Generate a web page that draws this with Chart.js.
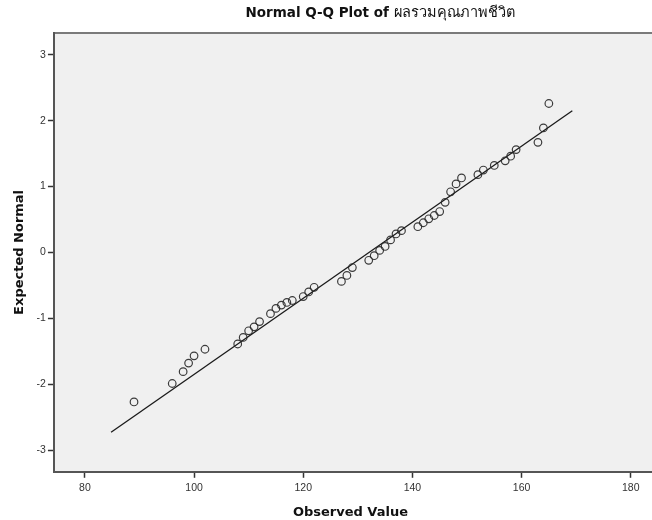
<!DOCTYPE html>
<html>
<head>
<meta charset="utf-8">
<script src="https://cdn.jsdelivr.net/npm/chart.js@4/dist/chart.umd.min.js"></script>
<style>
  html, body { margin: 0; padding: 0; background: #fff; }
  #wrap { width: 652px; height: 520px; }
</style>
</head>
<body>
<div id="wrap"><canvas id="qq" width="652" height="520"></canvas></div>
<script>
const xTicks = [80, 100, 120, 140, 160, 180];
const yTicks = [-3, -2, -1, 0, 1, 2, 3];

const observed = [89, 96, 98, 99, 100, 102, 108, 109, 110, 111, 112, 114, 115, 116, 117, 118,
  120, 121, 122, 127, 128, 129, 132, 133, 134, 135, 136, 137, 138, 141, 142, 143, 144, 145,
  146, 147, 148, 149, 152, 153, 155, 157, 158, 159, 163, 164, 165];
const expected = [-2.27, -1.99, -1.81, -1.68, -1.57, -1.47, -1.39, -1.29, -1.19, -1.13, -1.05,
  -0.93, -0.85, -0.80, -0.76, -0.73, -0.67, -0.60, -0.53, -0.44, -0.35, -0.23, -0.12, -0.05,
  0.03, 0.09, 0.19, 0.28, 0.33, 0.39, 0.45, 0.51, 0.56, 0.62, 0.76, 0.92, 1.04, 1.13, 1.18,
  1.25, 1.32, 1.39, 1.46, 1.56, 1.67, 1.89, 2.26];

// reference line ends
const lineX = [84.8, 169.3];
const lineY = [-2.73, 2.15];

const TICK_FONT = "'Liberation Sans', Arial, sans-serif";
const LABEL_FONT = "'DejaVu Sans', Verdana, sans-serif";

// plot panel runs off the right edge of the picture
const plotBackground = {
  id: "plotBackground",
  beforeDraw(chart) {
    const { ctx, chartArea: a } = chart;
    ctx.save();
    ctx.fillStyle = "#f0f0f0";
    ctx.fillRect(a.left, a.top, chart.width - a.left, a.bottom - a.top);
    ctx.strokeStyle = "#7a7a7a";
    ctx.lineWidth = 2;
    ctx.beginPath();
    ctx.moveTo(a.left, a.top);
    ctx.lineTo(chart.width, a.top);
    ctx.stroke();
    ctx.restore();
  },
  afterDraw(chart) {
    const { ctx, chartArea: a } = chart;
    ctx.save();
    ctx.strokeStyle = "#555";
    ctx.lineWidth = 2;
    ctx.beginPath();
    ctx.moveTo(a.right - 1, Math.round(a.bottom));
    ctx.lineTo(chart.width, Math.round(a.bottom));
    ctx.stroke();
    ctx.restore();
  },
};

const mixedTitle = {
  id: "mixedTitle",
  afterDraw(chart) {
    const { ctx } = chart;
    const boldPart = "Normal Q-Q Plot of ";
    const thaiPart = "ผลรวมคุณภาพชีวิต";
    ctx.save();
    ctx.textBaseline = "middle";
    ctx.fillStyle = "#111";
    ctx.font = "bold 13.5px " + LABEL_FONT;
    const w1 = ctx.measureText(boldPart).width;
    ctx.font = "14.5px " + LABEL_FONT;
    const w2 = ctx.measureText(thaiPart).width;
    const x = 380 - (w1 + w2) / 2;
    ctx.font = "bold 13.5px " + LABEL_FONT;
    ctx.fillText(boldPart, x, 13);
    ctx.font = "14.5px " + LABEL_FONT;
    ctx.fillText(thaiPart, x + w1, 13);
    ctx.restore();
  },
};

const points = observed.map((v, i) => ({ x: v, y: expected[i] }));
const linePts = lineX.map((v, i) => ({ x: v, y: lineY[i] }));

new Chart(document.getElementById("qq"), {
  type: "scatter",
  data: {
    datasets: [
      {
        data: points,
        pointRadius: 3.8,
        pointHoverRadius: 3.8,
        pointBorderWidth: 1.2,
        pointBorderColor: "rgba(40,40,40,0.9)",
        pointBackgroundColor: "rgba(0,0,0,0)",
      },
      {
        data: linePts,
        showLine: true,
        borderColor: "#1a1a1a",
        borderWidth: 1.3,
        pointRadius: 0,
      },
    ],
  },
  options: {
    responsive: false,
    animation: false,
    layout: { padding: { left: 12, top: 33, right: 0, bottom: 0 } },
    plugins: { legend: { display: false }, tooltip: { enabled: false } },
    scales: {
      x: {
        type: "linear",
        min: 74.33,
        max: 182.98,
        afterBuildTicks: (axis) => { axis.ticks = xTicks.map((v) => ({ value: v })); },
        grid: { drawOnChartArea: false, drawTicks: true, tickLength: 6, color: "#333", tickWidth: 1.5 },
        border: { color: "#555", width: 2 },
        ticks: { color: "#333", font: { family: TICK_FONT, size: 10.5 }, padding: 4, maxRotation: 0 },
        title: { display: true, text: "Observed Value", color: "#111", font: { family: LABEL_FONT, size: 13, weight: "bold" }, padding: { top: 6, bottom: 0 } },
      },
      y: {
        type: "linear",
        min: -3.33,
        max: 3.33,
        afterBuildTicks: (axis) => { axis.ticks = yTicks.map((v) => ({ value: v })); },
        grid: { drawOnChartArea: false, drawTicks: true, tickLength: 6, color: "#333", tickWidth: 1.5 },
        border: { color: "#555", width: 2 },
        ticks: { color: "#333", font: { family: TICK_FONT, size: 10.5 }, padding: 2 },
        title: { display: true, text: "Expected Normal", color: "#111", font: { family: LABEL_FONT, size: 13, weight: "bold" }, padding: { top: 0, bottom: 7 } },
      },
    },
  },
  plugins: [plotBackground, mixedTitle],
});
</script>
</body>
</html>
